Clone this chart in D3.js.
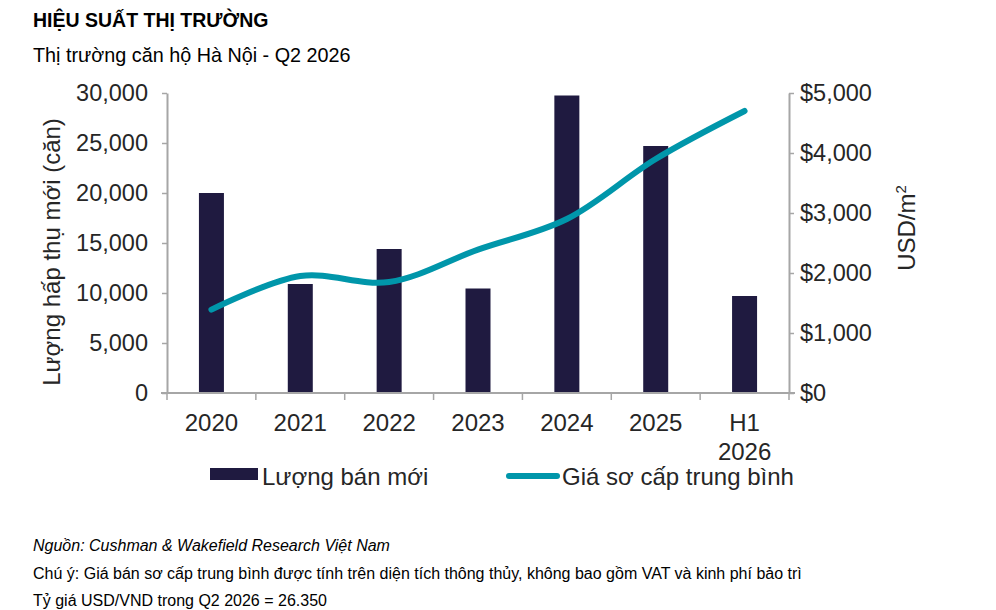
<!DOCTYPE html>
<html>
<head>
<meta charset="utf-8">
<script src="https://cdn.jsdelivr.net/npm/d3@7"></script>
<style>
  body { margin: 0; background: #fff; }
  text { font-family: "Liberation Sans", Arial, sans-serif; }
</style>
</head>
<body>
<svg id="chart" width="996" height="610"></svg>
<script>
// data
const categories = ["2020", "2021", "2022", "2023", "2024", "2025", "H1 2026"];
const sales = [20000, 10900, 14400, 10450, 29750, 24700, 9700];
const prices = [1390, 1950, 1850, 2390, 2900, 3900, 4700];
const leftTicks = [0, 5000, 10000, 15000, 20000, 25000, 30000];
const rightTicks = [0, 1000, 2000, 3000, 4000, 5000];
const notes = [
    "Nguồn: Cushman & Wakefield Research Việt Nam",
    "Chú ý: Giá bán sơ cấp trung bình được tính trên diện tích thông thủy, không bao gồm VAT và kinh phí bảo trì",
    "Tỷ giá USD/VND trong Q2 2026 = 26.350"
];

const svg = d3.select("#chart");
const barColor = "#1f1a40", lineColor = "#0096aa", axisColor = "#a6a6a6", textColor = "#262626";

const x0 = 167, x1 = 789, yTop = 93, yBot = 393;

// scales
const x = d3.scaleBand().domain(categories).range([x0, x1]);
const yL = d3.scaleLinear().domain([0, 30000]).range([yBot, yTop]);
const yR = d3.scaleLinear().domain([0, 5000]).range([yBot, yTop]);

// titles
svg.append("text").attr("x", 33).attr("y", 27)
    .style("font-weight", "bold").style("font-size", "19.5px").attr("fill", "#000")
    .text("HIỆU SUẤT THỊ TRƯỜNG");
svg.append("text").attr("x", 33).attr("y", 62)
    .style("font-size", "19.8px").attr("fill", "#000")
    .text("Thị trường căn hộ Hà Nội - Q2 2026");

// bars
svg.selectAll("rect.bar").data(sales).join("rect")
    .attr("class", "bar")
    .attr("x", (d, i) => x(categories[i]) + x.bandwidth() / 2 - 12.5)
    .attr("width", 25)
    .attr("y", d => yL(d))
    .attr("height", d => yBot - yL(d))
    .attr("fill", barColor);

// left axis
const leftAxis = svg.append("g").attr("transform", `translate(${x0},0)`)
    .call(d3.axisLeft(yL).tickValues(leftTicks).tickSize(5).tickSizeOuter(0).tickPadding(14)
        .tickFormat(d3.format(",")));
// right axis
const rightAxis = svg.append("g").attr("transform", `translate(${x1},0)`)
    .call(d3.axisRight(yR).tickValues(rightTicks).tickSize(5).tickSizeOuter(0).tickPadding(6)
        .tickFormat(d => "$" + d3.format(",")(d)));

[leftAxis, rightAxis].forEach(g => {
    g.select(".domain").attr("stroke", axisColor).attr("stroke-width", 2);
    g.selectAll(".tick line").attr("stroke", axisColor).attr("stroke-width", 1.5);
    g.selectAll(".tick text").attr("fill", textColor).style("font-size", "23.5px");
});

// x axis with ticks at band boundaries
const xg = svg.append("g");
xg.append("line").attr("x1", x0 - 6).attr("x2", x1 + 6).attr("y1", yBot).attr("y2", yBot)
    .attr("stroke", axisColor).attr("stroke-width", 2);
xg.selectAll("line.xt").data(categories.concat(["end"])).join("line")
    .attr("class", "xt")
    .attr("x1", (d, i) => x0 + i * x.bandwidth())
    .attr("x2", (d, i) => x0 + i * x.bandwidth())
    .attr("y1", yBot).attr("y2", yBot + 7)
    .attr("stroke", axisColor).attr("stroke-width", 1.5);
xg.selectAll("text.xl").data(categories).join("text")
    .attr("class", "xl")
    .attr("text-anchor", "middle")
    .attr("fill", textColor).style("font-size", "24px")
    .each(function (d) {
        const parts = d.split(" ");
        parts.forEach((p, j) => {
            d3.select(this).append("tspan")
                .attr("x", x(d) + x.bandwidth() / 2)
                .attr("y", 431 + j * 29)
                .text(p);
        });
    });

// price line
const line = d3.line()
    .x((d, i) => x(categories[i]) + x.bandwidth() / 2)
    .y(d => yR(d))
    .curve(d3.curveCatmullRom.alpha(0.5));
svg.append("path").datum(prices)
    .attr("d", line)
    .attr("fill", "none").attr("stroke", lineColor)
    .attr("stroke-width", 6).attr("stroke-linecap", "round");

// axis titles
svg.append("text")
    .attr("transform", "translate(60,252) rotate(-90)")
    .attr("text-anchor", "middle").attr("fill", textColor).style("font-size", "24px")
    .text("Lượng hấp thụ mới (căn)");
const rt = svg.append("text")
    .attr("transform", "translate(915,228) rotate(-90)")
    .attr("text-anchor", "middle").attr("fill", textColor).style("font-size", "24px");
rt.append("tspan").text("USD/m");
rt.append("tspan").attr("dy", -9).style("font-size", "15px").text("2");

// legend
svg.append("rect").attr("x", 210).attr("y", 468).attr("width", 48).attr("height", 12).attr("fill", barColor);
svg.append("text").attr("x", 262).attr("y", 485).attr("fill", textColor).style("font-size", "24px")
    .text("Lượng bán mới");
svg.append("line").attr("x1", 509).attr("x2", 557).attr("y1", 476).attr("y2", 476)
    .attr("stroke", lineColor).attr("stroke-width", 6).attr("stroke-linecap", "round");
svg.append("text").attr("x", 562).attr("y", 485).attr("fill", textColor).style("font-size", "24px")
    .text("Giá sơ cấp trung bình");

// notes
svg.selectAll("text.note").data(notes).join("text")
    .attr("class", "note")
    .attr("x", 33)
    .attr("y", (d, i) => 551 + i * 27.5)
    .attr("fill", "#000")
    .style("font-family", "'Liberation Sans Narrow', 'Arial Narrow', 'Liberation Sans', sans-serif")
    .style("font-size", "16px")
    .style("font-style", (d, i) => i === 0 ? "italic" : "normal")
    .text(d => d);
</script>
</body>
</html>
